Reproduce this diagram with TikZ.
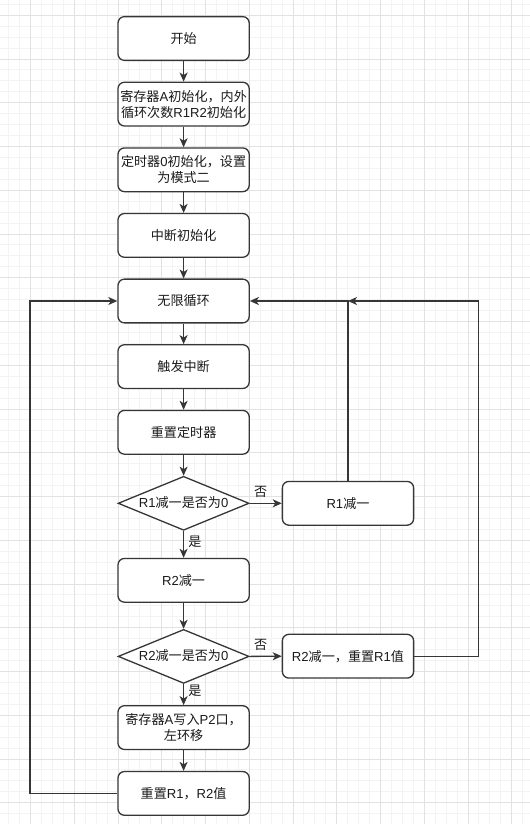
\documentclass[tikz,border=0pt]{standalone}
\usepackage{fontspec}
\setmainfont{Noto Sans CJK SC}
\newfontfamily\latf{Liberation Sans}
\newcommand\la[1]{{\latf #1}}
\usetikzlibrary{shapes.geometric,arrows.meta}
\definecolor{linec}{HTML}{363636}
\definecolor{txtc}{HTML}{1A1A1A}
\definecolor{minorg}{HTML}{F3F3F3}
\definecolor{majorg}{HTML}{E2E2E2}
\begin{document}
\begin{tikzpicture}[x=1bp,y=-1bp,
  fs/.style={font=\fontsize{13.1bp}{16bp}\selectfont, text=txtc},
  box/.style={fs, draw=linec, line width=1.3bp, rounded corners=6.5bp, fill=white,
    minimum width=131.25bp, minimum height=43.75bp, align=center, inner sep=1bp},
  dia/.style={draw=linec, line width=1.3bp, diamond, fill=white, inner sep=0pt,
    minimum width=131bp, minimum height=54bp},
  lbl/.style={fs, inner sep=0pt},
  arr/.style={draw=linec, line width=1.3bp, -{Stealth[length=9bp,width=8bp,inset=2.5bp]}},
  ln/.style={draw=linec, line width=1.3bp}]
\useasboundingbox (0,0) rectangle (530,824);
\fill[white] (0,0) rectangle (530,824);
% grid
\begin{scope}
\clip (0,0) rectangle (530,824);
\foreach \i in {-2,...,45} {\draw[minorg, line width=1bp] ({30.5+\i*10.9375},0) -- ({30.5+\i*10.9375},824);}
\foreach \i in {-1,...,73} {\draw[minorg, line width=1bp] (0,{15.3+\i*10.9375}) -- (530,{15.3+\i*10.9375});}
\foreach \i in {0,4,...,44} {\draw[majorg, line width=1bp] ({30.5+\i*10.9375},0) -- ({30.5+\i*10.9375},824);}
\foreach \i in {0,4,...,72} {\draw[majorg, line width=1bp] (0,{15.3+\i*10.9375}) -- (530,{15.3+\i*10.9375});}
\end{scope}
% nodes
\node[box] (b1) at (183.6,38.5) {开始};
\node[box] (b2) at (183.6,104.1) {寄存器\la{A}初始化，内外\\循环次数\la{R1R2}初始化};
\node[box] (b3) at (183.6,169.8) {定时器\la{0}初始化，设置\\为模式二};
\node[box] (b4) at (183.6,235.4) {中断初始化};
\node[box] (b5) at (183.6,301.0) {无限循环};
\node[box] (b6) at (183.6,366.6) {触发中断};
\node[box] (b7) at (183.6,432.3) {重置定时器};
\node[dia] (d1) at (183.6,503.3) {};
\node[lbl] (d1t) at (183.6,502.3) {\la{R1}减一是否为\la{0}};
\node[box] (r1) at (348,503.3) {\la{R1}减一};
\node[box] (b8) at (183.6,580.3) {\la{R2}减一};
\node[dia] (d2) at (183.6,656.4) {};
\node[lbl] (d2t) at (183.6,655.4) {\la{R2}减一是否为\la{0}};
\node[box] (r2) at (348,656.2) {\la{R2}减一，重置\la{R1}值};
\node[box] (b9) at (183.6,727.6) {寄存器\la{A}写入\la{P2}口，\\左环移};
\node[box] (b10) at (183.6,793.4) {重置\la{R1}，\la{R2}值};
% labels
\node[lbl] (n1) at (260.7,491.7) {否};
\node[lbl] (y1) at (195,542) {是};
\node[lbl] (n2) at (260.7,645.3) {否};
\node[lbl] (y2) at (195,691) {是};
% connectors
\draw[arr] (b1) -- (b2);
\draw[arr] (b2) -- (b3);
\draw[arr] (b3) -- (b4);
\draw[arr] (b4) -- (b5);
\draw[arr] (b5) -- (b6);
\draw[arr] (b6) -- (b7);
\draw[arr] (b7) -- (d1);
\draw[arr] (d1.east) -- (r1.west);
\draw[arr] (d1.south) -- (b8.north);
\draw[arr] (b8) -- (d2);
\draw[arr] (d2.east) -- (r2.west);
\draw[arr] (d2.south) -- (b9.north);
\draw[arr] (b9) -- (b10);
\draw[arr] (r1.north) |- (b5.east);
\coordinate (jr) at (r1.north |- b5.east);
\draw[arr] (r2.east) -- ++(64.5,0) |- (jr);
\draw[arr] (b10.west) -- ++(-87.3,0) |- (b5.west);
\end{tikzpicture}
\end{document}
